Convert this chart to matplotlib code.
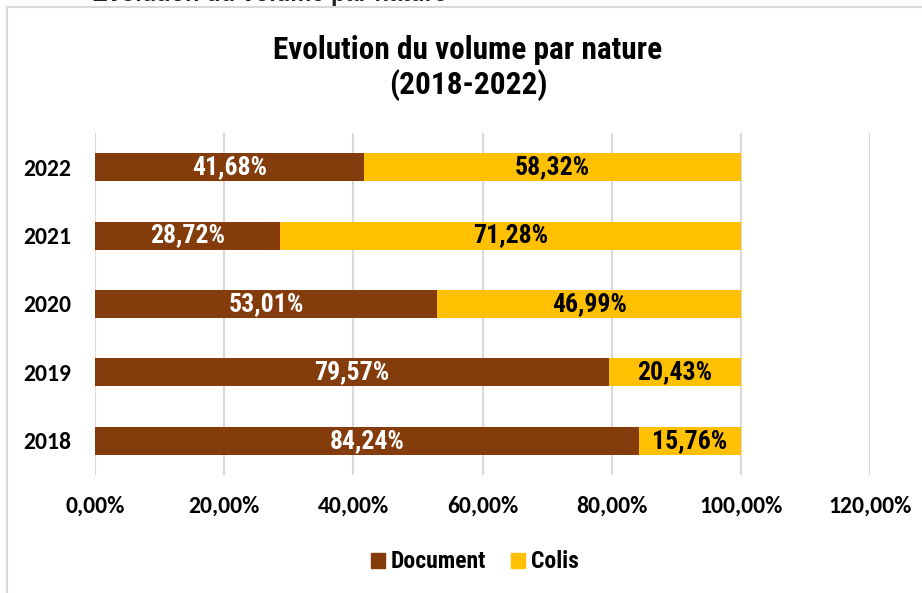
import matplotlib
matplotlib.use("Agg")
import matplotlib.pyplot as plt
from matplotlib import font_manager as fm
from matplotlib.patches import Rectangle
from matplotlib.lines import Line2D

years = ["2018", "2019", "2020", "2021", "2022"]
document = [84.24, 79.57, 53.01, 28.72, 41.68]
colis = [15.76, 20.43, 46.99, 71.28, 58.32]
xticks = [0, 20, 40, 60, 80, 100, 120]
xtick_labels = ["0,00%", "20,00%", "40,00%", "60,00%", "80,00%", "100,00%", "120,00%"]

names = {f.name for f in fm.fontManager.ttflist}
narrow = [f for f in ["Liberation Sans Narrow", "Arial Narrow", "Roboto Condensed"] if f in names] + ["Liberation Sans", "DejaVu Sans"]
calib = [f for f in ["Carlito", "Calibri"] if f in names] + ["Lato", "DejaVu Sans"]

BROWN = "#843C0C"
YELLOW = "#FFC000"

fig = plt.figure(figsize=(9.22, 5.93), dpi=100)
W, H = 922, 593
ax = fig.add_axes([95 / W, 1 - 475 / H, (870 - 95) / W, (475 - 133) / H])

y = list(range(len(years)))
ax.barh(y, document, height=0.41, color=BROWN, zorder=3)
ax.barh(y, colis, left=document, height=0.41, color=YELLOW, zorder=3)

for i in y:
    ax.text(document[i] / 2, i, f"{document[i]:.2f}%".replace(".", ","), ha="center", va="center",
            color="white", fontsize=18.5, fontweight="bold", family=narrow, zorder=4)
    ax.text(document[i] + colis[i] / 2, i, f"{colis[i]:.2f}%".replace(".", ","), ha="center", va="center",
            color="black", fontsize=18.5, fontweight="bold", family=narrow, zorder=4)

ax.set_xlim(0, 120)
ax.set_ylim(-0.5, 4.5)
ax.set_xticks(xticks)
ax.set_xticklabels(xtick_labels, family=calib, fontweight="heavy", fontsize=17)
ax.set_yticks(y)
ax.set_yticklabels(years, family=calib, fontweight="heavy", fontsize=17)
ax.tick_params(axis="both", length=0)
ax.tick_params(axis="x", pad=15)
ax.tick_params(axis="y", pad=17)
ax.grid(axis="x", color="#D9D9D9", linewidth=1.5, zorder=0)
for s in ax.spines.values():
    s.set_visible(False)

fig.text(468 / W, 1 - 68 / H, "Evolution du volume par nature\n(2018-2022)", ha="center", va="center",
         fontsize=22.5, fontweight="bold", family=narrow, linespacing=1.2)

# cropped text at very top
fig.text(92 / W, 1 - 1.5 / H, "Evolution du volume par nature", ha="left", va="baseline",
         fontsize=17, fontweight="bold", family=["Liberation Sans", "DejaVu Sans"], color="#222222")

# chart frame
fig.add_artist(Line2D([7 / W, 7 / W], [0, 1 - 7 / H], color="#D9D9D9", lw=1.5, transform=fig.transFigure))
fig.add_artist(Line2D([7 / W, 1], [1 - 7 / H, 1 - 7 / H], color="#D9D9D9", lw=1.5, transform=fig.transFigure))

handles = [Rectangle((0, 0), 1, 1, color=BROWN), Rectangle((0, 0), 1, 1, color=YELLOW)]
fig.legend(handles, ["Document", "Colis"], loc="center", bbox_to_anchor=(475 / W, 1 - 562 / H), ncol=2,
           frameon=False, prop={"family": narrow, "weight": "bold", "size": 17},
           handlelength=0.6, handleheight=0.6, handletextpad=0.25, columnspacing=1.05)

fig.savefig("out.png", dpi=100)
